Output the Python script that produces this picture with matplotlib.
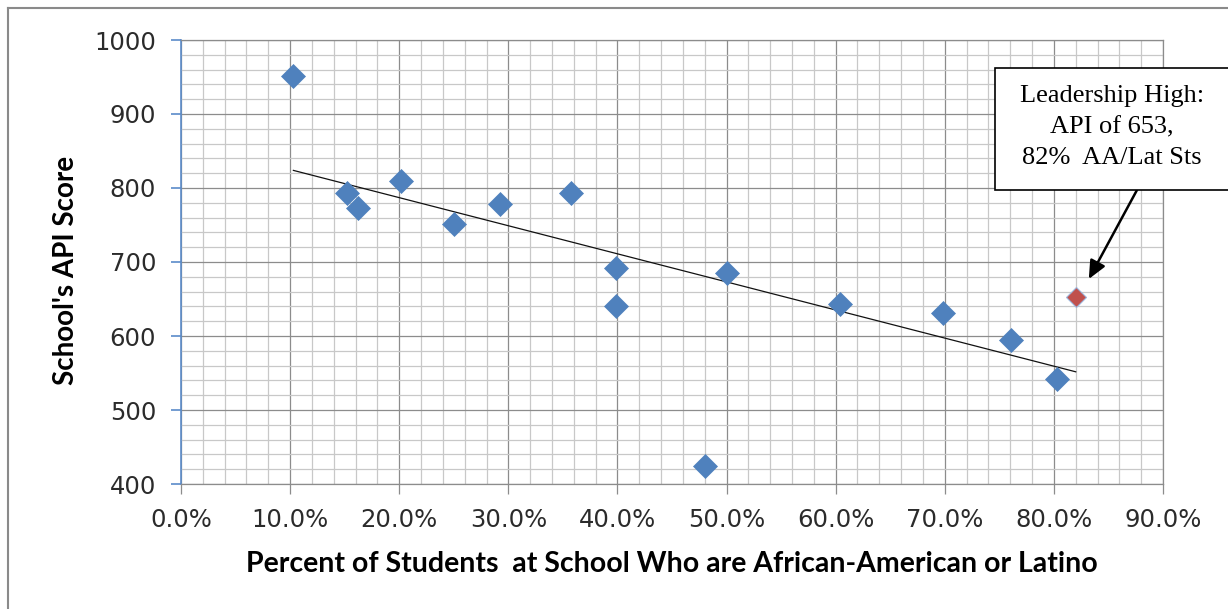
import matplotlib.pyplot as plt
import numpy as np
from matplotlib.ticker import MultipleLocator, PercentFormatter
from matplotlib.patches import Rectangle
from matplotlib.lines import Line2D

# share of African-American / Latino students, and API score per school
pct_aa_lat = [0.103, 0.152, 0.162, 0.202, 0.250, 0.292, 0.357, 0.399, 0.399,
              0.480, 0.500, 0.604, 0.698, 0.761, 0.803]
api_score = [952, 793, 773, 810, 751, 779, 793, 692, 640,
             424, 685, 643, 631, 595, 542]

# Leadership High
lead_pct = 0.82
lead_api = 653

W, H = 1228, 609


def fx(px):
    return px / W


def fy(py):
    return 1 - py / H


def plotChart(save_path='out.png'):
    fig = plt.figure(figsize=(W / 100, H / 100), dpi=100)
    ax = fig.add_axes([fx(181), fy(484), fx(1163) - fx(181), fy(40) - fy(484)])

    ax.set_xlim(0, 0.9)
    ax.set_ylim(400, 1000)
    ax.xaxis.set_major_locator(MultipleLocator(0.1))
    ax.xaxis.set_minor_locator(MultipleLocator(0.02))
    ax.yaxis.set_major_locator(MultipleLocator(100))
    ax.yaxis.set_minor_locator(MultipleLocator(20))
    ax.xaxis.set_major_formatter(PercentFormatter(xmax=1, decimals=1))

    ax.grid(which='minor', color='#c8c8c8', lw=0.9, zorder=0)
    ax.grid(which='major', color='#8c8c8c', lw=0.9, zorder=0)
    ax.set_axisbelow(True)

    for side in ['top', 'right', 'bottom']:
        ax.spines[side].set_color('#8c8c8c')
        ax.spines[side].set_linewidth(0.9)
    ax.spines['left'].set_color('#5b8bc9')
    ax.spines['left'].set_linewidth(1.2)

    ax.tick_params(which='minor', length=0)
    ax.tick_params(axis='y', which='major', length=7, width=1.2, color='#5b8bc9',
                   labelsize=17.5, labelcolor='#2b2b2b', pad=11)
    ax.tick_params(axis='x', which='major', length=7, width=0.9, color='#8c8c8c',
                   labelsize=17.5, labelcolor='#2b2b2b', pad=10)

    # linear trend over all schools
    all_x = np.array(pct_aa_lat + [lead_pct])
    all_y = np.array(api_score + [lead_api])
    k, b = np.polyfit(all_x, all_y, 1)
    tx = np.array([all_x.min(), all_x.max()])
    ax.plot(tx, k * tx + b, color='#111111', lw=0.9, zorder=2)

    ax.plot(pct_aa_lat, api_score, 'D', color='#4f81bd', ms=12.5, mec='#4f81bd',
            mew=0.5, zorder=3)
    ax.plot([lead_pct], [lead_api], 'D', color='#c0504d', ms=10.5, mec='#9db6dc',
            mew=0.8, zorder=3)

    fig.text(fx(672), fy(572), 'Percent of Students  at School Who are African-American or Latino',
             family='Lato', weight='bold', size=20.5, ha='center', va='baseline')
    fig.text(fx(66), fy(270), "School's API Score", family='Lato', weight='bold',
             size=20, rotation=90, ha='center', va='center')

    # callout box
    fig.add_artist(Rectangle((fx(995), fy(190)), fx(1245) - fx(995), fy(68) - fy(190),
                             transform=fig.transFigure, facecolor='white',
                             edgecolor='black', lw=1.2, clip_on=False, zorder=5))
    fig.text(fx(1112), fy(127), 'Leadership High:\nAPI of 653,\n82%  AA/Lat Sts',
             family='Liberation Serif', size=19, ha='center', va='center',
             linespacing=1.52, zorder=6)
    ax.annotate('', xy=(0.832, 677), xycoords='data',
                xytext=(1137, H - 190), textcoords='figure pixels',
                arrowprops=dict(arrowstyle='-|>,head_length=0.55,head_width=0.25',
                                color='black', lw=1.8, mutation_scale=20,
                                shrinkA=0, shrinkB=0), zorder=6)

    # outer chart frame
    fig.add_artist(Line2D([fx(8), fx(8)], [fy(8), 0], color='#8a8a8a', lw=1.5))
    fig.add_artist(Line2D([fx(8), 1], [fy(8), fy(8)], color='#8a8a8a', lw=1.5))

    fig.savefig(save_path, dpi=100)


if __name__ == '__main__':
    plotChart()
